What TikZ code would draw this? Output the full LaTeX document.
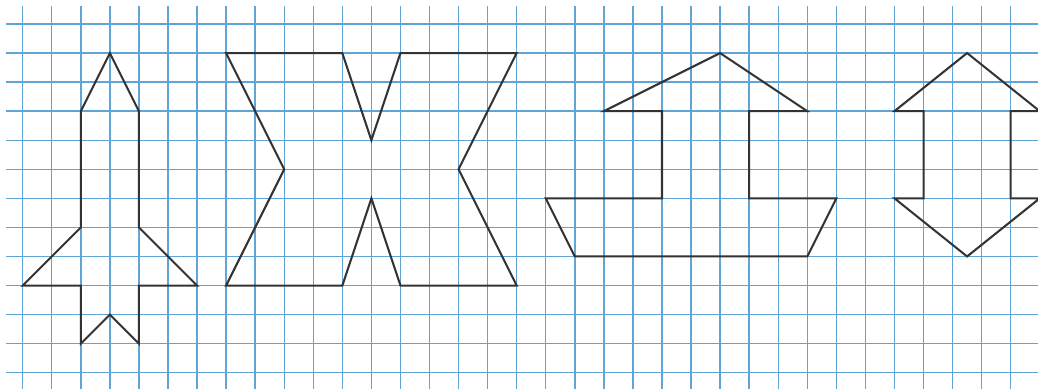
\documentclass[tikz,border=0pt]{standalone}
\usepackage{xcolor}
\usepackage{tikz}
\definecolor{gridblue}{RGB}{95,165,218}

\begin{document}
\begin{tikzpicture}[x=0.5cm,y=-0.5cm,
      gridline/.style={gridblue, line width=0.7pt},
      outline/.style={black!80, line width=1pt, line join=miter}]
    \useasboundingbox (-0.781,-0.826) rectangle (34.94,12.56);
    \clip (-0.781,-0.826) rectangle (34.94,12.56);
    \foreach \i in {0,...,34}
      \draw[gridline] (\i,-0.62) -- (\i,12.6);
    \foreach \j in {0,...,12}
      \draw[gridline] (-0.575,\j) -- (35,\j);
    \draw[outline] (3,1) -- (4,3) -- (4,7) -- (6,9) -- (4,9) -- (4,11) -- (3,10)
      -- (2,11) -- (2,9) -- (0,9) -- (2,7) -- (2,3) -- cycle;
    \draw[outline] (7,1) -- (11,1) -- (12,4) -- (13,1) -- (17,1) -- (15,5) -- (17,9)
      -- (13,9) -- (12,6) -- (11,9) -- (7,9) -- (9,5) -- cycle;
    \draw[outline] (24,1) -- (27,3) -- (25,3) -- (25,6) -- (28,6) -- (27,8) -- (19,8)
      -- (18,6) -- (22,6) -- (22,3) -- (20,3) -- cycle;
    \draw[outline] (32.5,1) -- (35,3) -- (34,3) -- (34,6) -- (35,6) -- (32.5,8)
      -- (30,6) -- (31,6) -- (31,3) -- (30,3) -- cycle;
  \end{tikzpicture}
\end{document}
